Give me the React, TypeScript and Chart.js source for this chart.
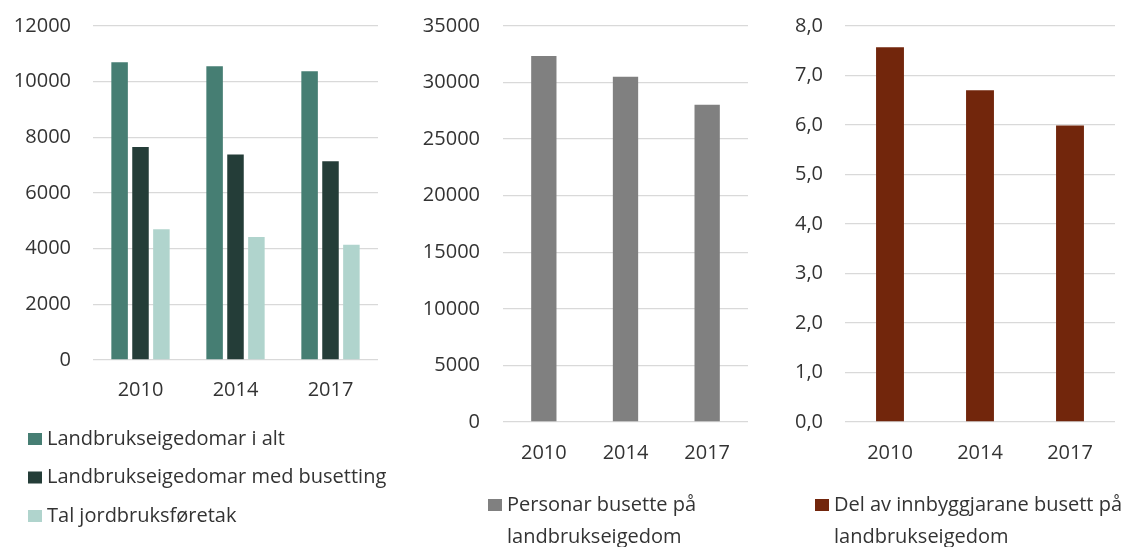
import React, { useEffect, useRef } from 'react';
import { Chart, registerables } from 'chart.js';

Chart.register(...registerables);

// ---------- data ----------
const years = ['2010', '2014', '2017'];

const eigedomarIAlt = [10700, 10550, 10370];
const eigedomarMedBusetting = [7650, 7380, 7140];
const talJordbruksforetak = [4700, 4420, 4140];

const personarBusette = [32350, 30520, 28050];

const delAvInnbyggjarane = [7.57, 6.7, 5.99];

const legend1 = [
  ['Landbrukseigedomar i alt'],
  ['Landbrukseigedomar med busetting'],
  ['Tal jordbruksføretak'],
];
const legend2 = [['Personar busette på', 'landbrukseigedom']];
const legend3 = [['Del av innbyggjarane busett på', 'landbrukseigedom']];

// ---------- style ----------
const FONT = '"Open Sans", Lato, sans-serif';
const FONT_SIZE = 20;
const TEXT = '#333333';
const GRID = '#D9D9D9';
const H = 547;
const TOP_PAD = 26;

const legendPlugin = {
  id: 'panelLegend',
  afterDraw(chart: any, _args: any, opts: any) {
    if (!opts || !opts.items) return;
    const ctx = chart.ctx as CanvasRenderingContext2D;
    ctx.save();
    ctx.font = `${FONT_SIZE}px ${FONT}`;
    ctx.textBaseline = 'middle';
    ctx.textAlign = 'left';
    chart.data.datasets.forEach((ds: any, i: number) => {
      const lines: string[] = opts.items[i] || [ds.label];
      const y0 = opts.y + i * opts.rowStep;
      ctx.fillStyle = ds.backgroundColor;
      ctx.fillRect(opts.boxX, y0 - opts.boxH / 2, opts.boxW, opts.boxH);
      ctx.fillStyle = TEXT;
      lines.forEach((ln, j) => {
        ctx.fillText(ln, opts.textX, y0 + j * opts.lineStep);
      });
    });
    ctx.restore();
  },
};

function makeConfig(p: {
  datasets: any[];
  max: number;
  step: number;
  fmt: (v: number) => string;
  yWidth: number;
  yPad: number;
  xPad: number;
  padRight: number;
  padBottom: number;
  legend: any;
}) {
  return {
    type: 'bar',
    data: { labels: years, datasets: p.datasets },
    plugins: [legendPlugin],
    options: {
      responsive: false,
      animation: false,
      layout: { padding: { top: TOP_PAD, left: 0, right: p.padRight, bottom: p.padBottom } },
      plugins: {
        legend: { display: false },
        tooltip: { enabled: false },
        panelLegend: p.legend,
      },
      scales: {
        x: {
          grid: { display: false, drawTicks: false },
          border: { display: false },
          ticks: {
            color: TEXT,
            padding: p.xPad,
            font: { family: FONT, size: FONT_SIZE },
          },
          afterFit: (s: any) => {
            s.height = 60;
            s.paddingLeft = 0;
            s.paddingRight = 0;
          },
        },
        y: {
          min: 0,
          max: p.max,
          grid: { color: GRID, lineWidth: 1.3, drawTicks: false },
          border: { display: false },
          ticks: {
            stepSize: p.step,
            color: TEXT,
            padding: p.yPad,
            font: { family: FONT, size: FONT_SIZE },
            callback: (v: any) => p.fmt(Number(v)),
          },
          afterFit: (s: any) => {
            s.width = p.yWidth;
            s.paddingTop = 0;
            s.paddingBottom = 0;
          },
        },
      },
    },
  } as any;
}

function Panel({ left, width, config }: { left: number; width: number; config: () => any }) {
  const ref = useRef<HTMLCanvasElement>(null);
  useEffect(() => {
    const chart = new Chart(ref.current as HTMLCanvasElement, config());
    return () => chart.destroy();
  }, []);
  return (
    <div style={{ position: 'absolute', left, top: 0, width, height: H }}>
      <canvas ref={ref} width={width} height={H} style={{ display: 'block', width, height: H }} />
    </div>
  );
}

const intFmt = (v: number) => String(Math.round(v));
const commaFmt = (v: number) => v.toFixed(1).replace('.', ',');

const config1 = () =>
  makeConfig({
    datasets: [
      {
        label: legend1[0].join(' '),
        data: eigedomarIAlt,
        backgroundColor: '#467E73',
        categoryPercentage: 0.66,
        barPercentage: 0.79,
      },
      {
        label: legend1[1].join(' '),
        data: eigedomarMedBusetting,
        backgroundColor: '#243D38',
        categoryPercentage: 0.66,
        barPercentage: 0.79,
      },
      {
        label: legend1[2].join(' '),
        data: talJordbruksforetak,
        backgroundColor: '#B0D4CD',
        categoryPercentage: 0.66,
        barPercentage: 0.79,
      },
    ],
    max: 12000,
    step: 2000,
    fmt: intFmt,
    yWidth: 93,
    yPad: 22,
    xPad: 18,
    padRight: 42,
    padBottom: 547 - 360 - 60,
    legend: { items: legend1, boxX: 28, textX: 47, y: 439, rowStep: 38.5, lineStep: 32, boxW: 14, boxH: 12 },
  });

const config2 = () =>
  makeConfig({
    datasets: [
      {
        label: legend2[0].join(' '),
        data: personarBusette,
        backgroundColor: '#808080',
        categoryPercentage: 0.31,
        barPercentage: 1,
      },
    ],
    max: 35000,
    step: 5000,
    fmt: intFmt,
    yWidth: 123,
    yPad: 23,
    xPad: 19,
    padRight: 12,
    padBottom: 547 - 422 - 60,
    legend: { items: legend2, boxX: 108, textX: 127, y: 505, rowStep: 38, lineStep: 32, boxW: 14, boxH: 12 },
  });

const config3 = () =>
  makeConfig({
    datasets: [
      {
        label: legend3[0].join(' '),
        data: delAvInnbyggjarane,
        backgroundColor: '#72260C',
        categoryPercentage: 0.31,
        barPercentage: 1,
      },
    ],
    max: 8,
    step: 1,
    fmt: commaFmt,
    yWidth: 85,
    yPad: 22,
    xPad: 19,
    padRight: 23,
    padBottom: 547 - 422 - 60,
    legend: { items: legend3, boxX: 55, textX: 74, y: 505, rowStep: 38, lineStep: 32, boxW: 14, boxH: 12 },
  });

export default function App() {
  return (
    <div
      style={{
        position: 'absolute',
        left: 0,
        top: 0,
        width: 1138,
        height: H,
        background: '#ffffff',
        overflow: 'hidden',
      }}
    >
      <Panel left={0} width={420} config={config1} />
      <Panel left={380} width={380} config={config2} />
      <Panel left={760} width={378} config={config3} />
    </div>
  );
}
